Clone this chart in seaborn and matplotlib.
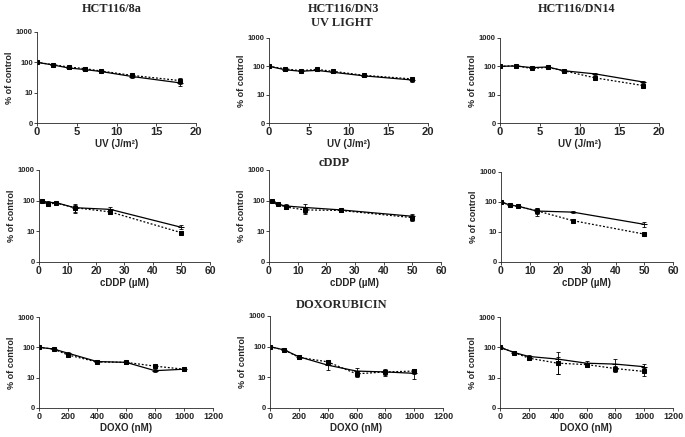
import numpy as np
import pandas as pd
import matplotlib
matplotlib.use("Agg")
import matplotlib.pyplot as plt
import seaborn as sns

sns.set_style("ticks")
plt.rcParams['font.family'] = ['Liberation Sans', 'DejaVu Sans']

# cell lines (columns) and drugs (rows)
cell_lines = ['HCT116/8a', 'HCT116/DN3', 'HCT116/DN14']
drug_titles = ['UV LIGHT', 'cDDP', 'DOXORUBICIN']
x_labels = ['UV (J/m\u00b2)', 'cDDP (\u00b5M)', 'DOXO (nM)']

# doses
uv_dose = [0, 2, 4, 6, 8, 12, 18]
cddp_dose_a = [1, 3, 6, 12.5, 25, 50]
cddp_dose_b = [0, 3, 6, 12.5, 25, 50]
doxo_dose = [0, 100, 200, 400, 600, 800, 1000]

# survival (% of control): solid line / dotted line, with errors
uv_8a_solid = [100, 82, 65, 58, 50, 34, 21]
uv_8a_solid_err = [0, 3, 6, 6, 3, 4, 5]
uv_8a_dot = [100, 84, 70, 62, 52, 37, 25]
uv_8a_dot_err = [0, 4, 8, 8, 4, 5, 5]

uv_dn3_solid = [100, 76, 67, 72, 62, 46, 33]
uv_dn3_solid_err = [0, 5, 5, 5, 5, 3, 4]
uv_dn3_dot = [100, 82, 70, 78, 67, 48, 36]
uv_dn3_dot_err = [0, 5, 4, 4, 4, 3, 4]

uv_dn14_solid = [100, 103, 90, 95, 70, 54, 28]
uv_dn14_solid_err = [0, 8, 6, 5, 4, 5, 3]
uv_dn14_dot = [100, 105, 84, 92, 70, 39, 21]
uv_dn14_dot_err = [0, 6, 6, 5, 4, 4, 2]

cddp_8a_solid = [100, 88, 86, 59, 52, 13.5]
cddp_8a_solid_err = [5, 10, 5, 18, 8, 2]
cddp_8a_dot = [100, 76, 84, 59, 43, 9]
cddp_8a_dot_err = [5, 8, 5, 15, 5, 1]

cddp_dn3_solid = [100, 76, 67, 60, 50, 31]
cddp_dn3_solid_err = [5, 5, 8, 20, 5, 5]
cddp_dn3_dot = [100, 76, 62, 50, 48, 28]
cddp_dn3_dot_err = [5, 5, 8, 12, 5, 6]

cddp_dn14_solid = [100, 80, 72, 50, 46, 18]
cddp_dn14_solid_err = [5, 5, 5, 15, 3, 3]
cddp_dn14_dot = [100, 80, 72, 51, 24, 8.5]
cddp_dn14_dot_err = [5, 5, 5, 10, 2, 1]

doxo_8a_solid = [100, 88, 64, 34, 32, 17, 19]
doxo_8a_solid_err = [3, 4, 6, 4, 3, 2, 2]
doxo_8a_dot = [100, 88, 56, 33, 32, 24, 19]
doxo_8a_dot_err = [3, 4, 6, 3, 3, 3, 2]

doxo_dn3_solid = [100, 78, 47, 25, 16, 15, 13.5]
doxo_dn3_solid_err = [3, 5, 8, 7, 4, 4, 5]
doxo_dn3_dot = [100, 78, 45, 32, 13, 15, 16]
doxo_dn3_dot_err = [3, 4, 6, 5, 3, 3, 3]

doxo_dn14_solid = [100, 67, 50, 41, 30, 28, 23]
doxo_dn14_solid_err = [3, 6, 5, 28, 5, 12, 5]
doxo_dn14_dot = [100, 67, 44, 30, 27, 20, 16]
doxo_dn14_dot_err = [3, 5, 5, 17, 4, 5, 5]

panels = [
    [(uv_dose, uv_8a_solid, uv_8a_solid_err, uv_8a_dot, uv_8a_dot_err),
     (uv_dose, uv_dn3_solid, uv_dn3_solid_err, uv_dn3_dot, uv_dn3_dot_err),
     (uv_dose, uv_dn14_solid, uv_dn14_solid_err, uv_dn14_dot, uv_dn14_dot_err)],
    [(cddp_dose_a, cddp_8a_solid, cddp_8a_solid_err, cddp_8a_dot, cddp_8a_dot_err),
     (cddp_dose_a, cddp_dn3_solid, cddp_dn3_solid_err, cddp_dn3_dot, cddp_dn3_dot_err),
     (cddp_dose_b, cddp_dn14_solid, cddp_dn14_solid_err, cddp_dn14_dot, cddp_dn14_dot_err)],
    [(doxo_dose, doxo_8a_solid, doxo_8a_solid_err, doxo_8a_dot, doxo_8a_dot_err),
     (doxo_dose, doxo_dn3_solid, doxo_dn3_solid_err, doxo_dn3_dot, doxo_dn3_dot_err),
     (doxo_dose, doxo_dn14_solid, doxo_dn14_solid_err, doxo_dn14_dot, doxo_dn14_dot_err)],
]

x_limits = [(0, 20), (0, 60), (0, 1200)]
x_steps = [5, 10, 200]
xtick_size = [8, 7.5, 6.5]
xlabel_pad = [1.5, 1.5, 1]

# axes boxes in pixels: left, right, top, bottom
boxes = [
    [(37, 196, 32, 123), (269, 428, 38, 123), (500, 659, 38, 123)],
    [(39, 210, 170, 262), (269, 441, 170, 262), (501, 673, 172, 262)],
    [(39, 213, 317, 408), (270, 443, 316, 408), (500, 673, 317, 408)],
]

W, H = 685, 437
fig = plt.figure(figsize=(W / 100, H / 100), dpi=100)

for r in range(3):
    for c in range(3):
        l, rr, t, b = boxes[r][c]
        ax = fig.add_axes([l / W, 1 - b / H, (rr - l) / W, (b - t) / H])
        x, s, se, d, de = panels[r][c]
        df = pd.DataFrame({'dose': list(x) * 2,
                           'pct': list(s) + list(d),
                           'err': list(se) + list(de),
                           'line': ['solid'] * len(x) + ['dotted'] * len(x)})

        for name, ls, mk, ms in [('solid', '-', '_', 4), ('dotted', (0, (1.5, 1.5)), 's', 3.2)]:
            sub = df[df['line'] == name]
            ax.errorbar(sub['dose'], sub['pct'], yerr=sub['err'], fmt='none',
                        ecolor='black', elinewidth=0.6, capsize=1.5, capthick=0.6)
            sns.lineplot(data=sub, x='dose', y='pct', ax=ax, color='black',
                         linewidth=0.9, linestyle=ls, marker=mk, markersize=ms,
                         markeredgecolor='black', markerfacecolor='black',
                         errorbar=None, sort=False, legend=False)

        ax.set_yscale('log')
        ax.set_ylim(1, 1000)
        ax.set_yticks([1, 10, 100, 1000])
        ax.set_yticklabels(['0', '10', '100', '1000'], fontsize=5.5, fontweight='bold')
        ax.yaxis.set_minor_locator(matplotlib.ticker.NullLocator())
        ax.set_xlim(*x_limits[r])
        ax.set_xticks(np.arange(x_limits[r][0], x_limits[r][1] + 1, x_steps[r]))
        ax.tick_params(axis='x', labelsize=xtick_size[r], length=2, width=0.6, pad=1)
        ax.tick_params(axis='y', length=2, width=0.6, pad=1)
        for lab in ax.get_xticklabels():
            lab.set_fontweight('bold')
        ax.set_xlabel(x_labels[r], fontsize=7, fontweight='bold', labelpad=xlabel_pad[r])
        ax.set_ylabel('% of control', fontsize=6.5, fontweight='bold', labelpad=1)
        for sp in ['left', 'bottom']:
            ax.spines[sp].set_linewidth(0.6)
        sns.despine(ax=ax)

serif = ['Liberation Serif', 'DejaVu Serif']
for name, xc in zip(cell_lines, [112, 343, 577]):
    fig.text(xc / W, 1 - 9 / H, name, ha='center', va='center',
             fontsize=8.8, fontweight='bold', family=serif)
for name, (xc, yc) in zip(drug_titles, [(342, 23), (334, 163), (342, 305)]):
    fig.text(xc / W, 1 - yc / H, name, ha='center', va='center',
             fontsize=9, fontweight='bold', family=serif)

fig.savefig('out.png', dpi=100)
